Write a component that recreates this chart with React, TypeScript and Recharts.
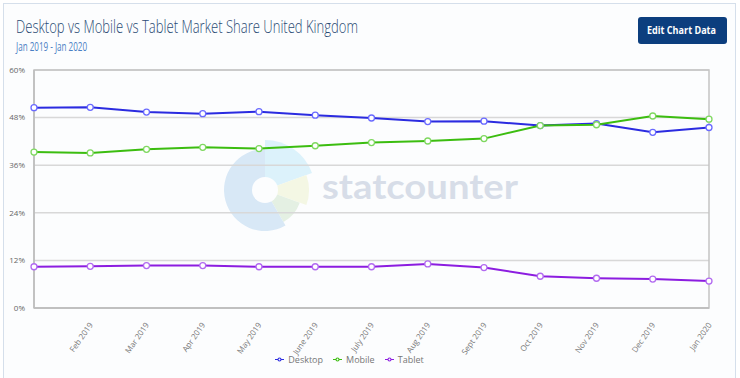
import { LineChart, Line, XAxis, YAxis, CartesianGrid, Legend, ReferenceArea } from 'recharts';

const months = [
  'Jan 2019', 'Feb 2019', 'Mar 2019', 'Apr 2019', 'May 2019', 'June 2019', 'July 2019',
  'Aug 2019', 'Sept 2019', 'Oct 2019', 'Nov 2019', 'Dec 2019', 'Jan 2020',
];
const desktop = [50.5, 50.6, 49.4, 49.0, 49.5, 48.6, 47.9, 47.0, 47.1, 46.0, 46.5, 44.3, 45.5];
const mobile = [39.3, 39.1, 40.0, 40.5, 40.2, 40.9, 41.7, 42.1, 42.7, 46.0, 46.2, 48.4, 47.6];
const tablet = [10.4, 10.5, 10.7, 10.7, 10.4, 10.4, 10.4, 11.1, 10.2, 8.0, 7.5, 7.3, 6.8];
const yTicks = [0, 12, 24, 36, 48, 60];

const data = months.map((m, i) => ({
  month: m,
  Desktop: desktop[i],
  Mobile: mobile[i],
  Tablet: tablet[i],
}));

const FONT = '"Open Sans", "DejaVu Sans", sans-serif';

// slice of the watermark logo, angles in degrees (counter-clockwise from +x)
const arc = (cx: number, cy: number, r: number, a0: number, a1: number) => {
  const p = (a: number) => [cx + r * Math.cos((a * Math.PI) / 180), cy - r * Math.sin((a * Math.PI) / 180)];
  const [x0, y0] = p(a0);
  const [x1, y1] = p(a1);
  const large = Math.abs(a1 - a0) > 180 ? 1 : 0;
  const sweep = a1 < a0 ? 1 : 0;
  return `M${cx},${cy} L${x0},${y0} A${r},${r} 0 ${large} ${sweep} ${x1},${y1} Z`;
};

const XTick = ({ x, y, payload, index }: any) => {
  if (index === 0) return null;
  return (
    <text
      x={x + 3}
      y={y + 9}
      transform={`rotate(-55, ${x + 3}, ${y + 9})`}
      textAnchor="end"
      fontSize={8}
      fill="#777"
      fontFamily={FONT}
    >
      {payload.value}
    </text>
  );
};

const legendFormatter = (value: string) => (
  <span style={{ color: '#777', fontSize: 9, fontFamily: FONT }}>{value}</span>
);

const dotStyle = (stroke: string) => ({ r: 3, fill: '#fff', stroke, strokeWidth: 1.3 });

export default function App() {
  return (
    <div style={{ position: 'absolute', left: 0, top: 0, width: 740, height: 378, background: '#fff', overflow: 'hidden' }}>
      <div
        style={{
          position: 'absolute', left: 3, top: 3, width: 733, height: 390,
          border: '1px solid #d5dfeb', background: '#fcfdfe', boxSizing: 'border-box',
        }}
      />
      <svg width={740} height={378} style={{ position: 'absolute', left: 0, top: 0 }}>
        <path d={arc(265, 190, 50, 90, 20)} fill="#dcf2fb" />
        <path d={arc(265, 190, 44, 20, -20)} fill="#f4f7e4" />
        <path d={arc(265, 190, 37, -20, -60)} fill="#e4f0e3" />
        <path d={arc(265, 190, 41, 90, 300)} fill="#d8e8f6" />
        <circle cx={265} cy={190} r={13} fill="#fcfdfe" />
        <text x={322} y={199} fontSize={35} fontWeight={700} fill="#d7dde8" fontFamily='Lato, "Open Sans", sans-serif' textLength={196} lengthAdjust="spacingAndGlyphs">
          statcounter
        </text>
      </svg>
      <div style={{ position: 'absolute', left: 0, top: 0 }}>
        <LineChart width={740} height={378} data={data} margin={{ top: 70, right: 31, left: 0, bottom: 0 }}>
          <CartesianGrid vertical={false} stroke="#d8d8d8" strokeWidth={1.5} />
          <ReferenceArea x1="Jan 2019" x2="Jan 2020" y1={0} y2={60} fill="none" stroke="#c4c4c4" strokeWidth={1.5} ifOverflow="visible" />
          <XAxis
            dataKey="month"
            height={40}
            interval={0}
            tick={<XTick />}
            tickLine={false}
            axisLine={{ stroke: '#bdbdbd', strokeWidth: 1.5 }}
          />
          <YAxis
            width={34}
            domain={[0, 60]}
            ticks={yTicks}
            tickFormatter={(v: number) => `${v}%`}
            tick={{ fontSize: 8, fill: '#666', fontFamily: FONT }}
            tickLine={false}
            axisLine={{ stroke: '#bdbdbd', strokeWidth: 1.5 }}
            tickMargin={3}
          />
          <Legend
            formatter={legendFormatter}
            iconSize={9}
            wrapperStyle={{ height: 30, lineHeight: '20px' }}
          />
          <Line dataKey="Desktop" stroke="#2b2be0" strokeWidth={2} dot={dotStyle('#6a6aff')} isAnimationActive={false} />
          <Line dataKey="Mobile" stroke="#3cbd10" strokeWidth={2} dot={dotStyle('#7fd860')} isAnimationActive={false} />
          <Line dataKey="Tablet" stroke="#8c1de0" strokeWidth={2} dot={dotStyle('#b26af0')} isAnimationActive={false} />
        </LineChart>
      </div>
      <svg width={740} height={60} style={{ position: 'absolute', left: 0, top: 0 }}>
        <text x={16} y={33} fontSize={19} fontWeight={300} fill="#2a4b74" fontFamily={FONT} textLength={342} lengthAdjust="spacingAndGlyphs">
          Desktop vs Mobile vs Tablet Market Share United Kingdom
        </text>
        <text x={16} y={51} fontSize={12} fill="#4a80c4" fontFamily={FONT} textLength={71} lengthAdjust="spacingAndGlyphs">
          Jan 2019 - Jan 2020
        </text>
        <rect x={638} y={17} width={89} height={27} rx={3} fill="#0c3e7e" />
        <text x={647} y={34} fontSize={11} fontWeight={700} fill="#fff" fontFamily={FONT} textLength={69} lengthAdjust="spacingAndGlyphs">
          Edit Chart Data
        </text>
      </svg>
    </div>
  );
}
